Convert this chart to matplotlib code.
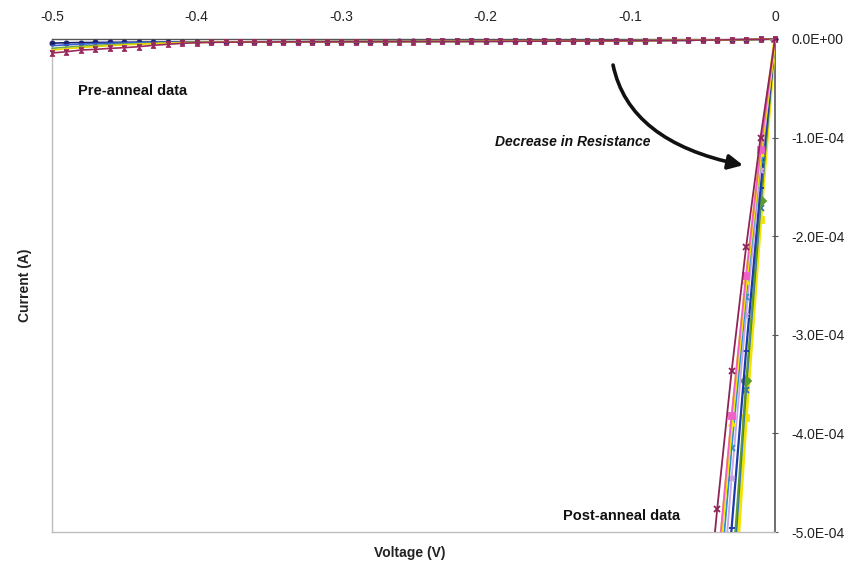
import matplotlib
matplotlib.use("Agg")
import matplotlib.pyplot as plt
from matplotlib.ticker import FixedLocator, FuncFormatter
from matplotlib.patches import FancyArrowPatch
from matplotlib.path import Path

plt.rcParams["font.family"] = ["Liberation Sans", "DejaVu Sans"]
plt.rcParams["axes.unicode_minus"] = False

# ---- Pre-anneal sweep: voltage (V) and current (uA) ----
v_pre = [-0.50, -0.49, -0.48, -0.47, -0.46, -0.45, -0.44, -0.43, -0.42, -0.41,
         -0.40, -0.39, -0.38, -0.37, -0.36, -0.35, -0.34, -0.33, -0.32, -0.31,
         -0.30, -0.29, -0.28, -0.27, -0.26, -0.25, -0.24, -0.23, -0.22, -0.21,
         -0.20, -0.19, -0.18, -0.17, -0.16, -0.15, -0.14, -0.13, -0.12, -0.11,
         -0.10, -0.09, -0.08, -0.07, -0.06, -0.05, -0.04, -0.03, -0.02, -0.01,
         0.00]

pre_navy = [-4.2, -3.8, -3.6, -3.5, -3.4, -3.3, -3.2, -3.1, -3.1, -3.0,
            -3.0, -2.9, -2.9, -2.9, -2.8, -2.8, -2.8, -2.8, -2.7, -2.7,
            -2.7, -2.6, -2.6, -2.6, -2.5, -2.5, -2.5, -2.4, -2.4, -2.4,
            -2.3, -2.3, -2.2, -2.2, -2.1, -2.1, -2.0, -2.0, -1.9, -1.8,
            -1.7, -1.6, -1.5, -1.4, -1.3, -1.1, -1.0, -0.8, -0.6, -0.3,
            0.0]
pre_blue = [-6.8, -5.9, -5.2, -4.7, -4.3, -4.0, -3.7, -3.5, -3.3, -3.2,
            -3.1, -3.0, -3.0, -2.9, -2.9, -2.8, -2.8, -2.8, -2.7, -2.7,
            -2.7, -2.6, -2.6, -2.6, -2.5, -2.5, -2.5, -2.4, -2.4, -2.4,
            -2.3, -2.3, -2.2, -2.2, -2.1, -2.1, -2.0, -2.0, -1.9, -1.8,
            -1.7, -1.6, -1.5, -1.4, -1.3, -1.1, -1.0, -0.8, -0.6, -0.3,
            0.0]
pre_green = [-9.5, -8.3, -7.3, -6.5, -5.8, -5.2, -4.7, -4.3, -3.9, -3.6,
             -3.4, -3.2, -3.1, -3.0, -2.9, -2.9, -2.8, -2.8, -2.7, -2.7,
             -2.7, -2.6, -2.6, -2.6, -2.5, -2.5, -2.5, -2.4, -2.4, -2.4,
             -2.3, -2.3, -2.2, -2.2, -2.1, -2.1, -2.0, -2.0, -1.9, -1.8,
             -1.7, -1.6, -1.5, -1.4, -1.3, -1.1, -1.0, -0.8, -0.6, -0.3,
             0.0]
pre_yellow = [-11.2, -9.9, -8.7, -7.7, -6.8, -6.0, -5.3, -4.7, -4.2, -3.8,
              -3.5, -3.3, -3.1, -3.0, -2.9, -2.9, -2.8, -2.8, -2.7, -2.7,
              -2.7, -2.6, -2.6, -2.6, -2.5, -2.5, -2.5, -2.4, -2.4, -2.4,
              -2.3, -2.3, -2.2, -2.2, -2.1, -2.1, -2.0, -2.0, -1.9, -1.8,
              -1.7, -1.6, -1.5, -1.4, -1.3, -1.1, -1.0, -0.8, -0.6, -0.3,
              0.0]
pre_maroon = [-14.2, -12.9, -11.2, -10.5, -9.5, -8.8, -7.8, -6.4, -5.4, -4.4,
              -3.7, -3.4, -3.2, -3.1, -3.0, -3.0, -2.9, -2.9, -2.8, -2.8,
              -2.8, -2.7, -2.7, -2.6, -2.6, -2.6, -2.5, -2.5, -2.5, -2.4,
              -2.4, -2.3, -2.3, -2.2, -2.2, -2.1, -2.1, -2.0, -1.9, -1.8,
              -1.7, -1.6, -1.5, -1.4, -1.3, -1.1, -1.0, -0.8, -0.6, -0.3,
              0.0]

# ---- Post-anneal sweep: voltage (V) and current (1e-4 A) ----
v_post = [0.00, -0.01, -0.02, -0.03, -0.04, -0.05]

post_maroon = [0.0, -1.00, -2.11, -3.37, -4.77, -6.30]
post_magenta = [0.0, -1.13, -2.40, -3.82, -5.40]
post_yellow_tri = [0.0, -1.16, -2.45, -3.89, -5.50]
post_cyan = [0.0, -1.23, -2.62, -4.15, -5.85]
post_lavender = [0.0, -1.33, -2.80, -4.45, -6.30]
post_blue = [0.0, -1.51, -3.16, -4.96, -7.00]
post_green = [0.0, -1.64, -3.47, -5.50]
post_steel = [0.0, -1.71, -3.56, -5.70]
post_yellow_sq = [0.0, -1.84, -3.84, -6.10]

x_ticks = [-0.5, -0.4, -0.3, -0.2, -0.1, 0.0]
y_ticks = [0.0, -1e-4, -2e-4, -3e-4, -4e-4, -5e-4]

hourglass = [(-0.8, 1), (0.8, 1), (-0.8, -1), (0.8, -1), (-0.8, 1)]

fig = plt.figure(figsize=(8.53, 5.71), dpi=100)
ax = fig.add_axes([52 / 853, 1 - 532 / 571, (775 - 52) / 853, (532 - 39) / 571])

ua = 1e-6
pre_series = [
    (pre_navy, "#1a1f6e", "o", 3.5),
    (pre_blue, "#3a5fd0", "o", 0),
    (pre_green, "#6aa84f", "D", 0),
    (pre_yellow, "#e8d800", "^", 0),
    (pre_maroon, "#9a2a5e", hourglass, 4.0),
]
for vals, col, mk, ms in pre_series:
    ax.plot(v_pre, [c * ua for c in vals], color=col, lw=1.2,
            marker=mk, ms=ms, mfc=col, mec=col, mew=0.8, clip_on=False, zorder=3)

u4 = 1e-4
post_series = [
    (post_yellow_sq, "#f2e400", "s", 2.4),
    (post_steel, "#2f6fc0", "x", 1.3),
    (post_green, "#5c9e2e", "D", 1.3),
    (post_blue, "#1a3aa8", "_", 1.6),
    (post_lavender, "#c9a3e8", "*", 1.3),
    (post_cyan, "#2a8ed0", "x", 1.3),
    (post_yellow_tri, "#f5e600", "^", 2.4),
    (post_magenta, "#f060c8", "s", 1.3),
    (post_maroon, "#8e2456", "x", 1.3),
]
for vals, col, mk, lw in post_series:
    ax.plot(v_post[:len(vals)], [c * u4 for c in vals], color=col, lw=lw,
            marker=mk, ms=5, mfc=col, mec=col, mew=1.3, zorder=4)

ax.set_xlim(-0.5, 0.0)
ax.set_ylim(-5e-4, 0.0)

ax.xaxis.tick_top()
ax.yaxis.tick_right()
ax.xaxis.set_major_locator(FixedLocator(x_ticks))
ax.yaxis.set_major_locator(FixedLocator(y_ticks))
ax.xaxis.set_major_formatter(FuncFormatter(lambda v, p: f"{v:g}"))
ax.yaxis.set_major_formatter(FuncFormatter(lambda v, p: f"{v:.1E}"))
ax.tick_params(axis="x", length=0, pad=11, labelsize=10, colors="#222222")
ax.tick_params(axis="y", length=4, direction="inout", pad=10, labelsize=10,
               colors="#555555", labelcolor="#222222")

for side in ("left", "bottom"):
    ax.spines[side].set_color("#bdbdbd")
    ax.spines[side].set_linewidth(1.0)
ax.spines["right"].set_color("#555555")
ax.spines["right"].set_linewidth(1.2)
ax.spines["top"].set_color("#555555")
ax.spines["top"].set_linewidth(1.0)

ax.text(-0.482, -0.53e-4, "Pre-anneal data", fontsize=10.5,
        fontweight="bold", ha="left", va="center", color="#111111")
ax.text(-0.1466, -4.84e-4, "Post-anneal data", fontsize=10.5,
        fontweight="bold", ha="left", va="center", color="#111111", zorder=2)
ax.text(-0.0864, -1.047e-4, "Decrease in Resistance", fontsize=10,
        fontweight="bold", fontstyle="italic", ha="right", va="center",
        color="#111111")

# curved arrow pointing at the post-anneal curves
arrow_path = Path([(-0.112, -0.264e-4), (-0.1010, -1.042e-4), (-0.0221, -1.28e-4)],
                  [Path.MOVETO, Path.CURVE3, Path.CURVE3])
arrow = FancyArrowPatch(path=arrow_path, arrowstyle="-|>", mutation_scale=22,
                        lw=2.6, color="#111111", transform=ax.transData, zorder=5)
ax.add_patch(arrow)

fig.text(25 / 853, 1 - 285 / 571, "Current (A)", rotation=90, fontsize=10,
         fontweight="bold", ha="center", va="center", color="#222222")
fig.text(410 / 853, 1 - 553 / 571, "Voltage (V)", fontsize=10,
         fontweight="bold", ha="center", va="center", color="#222222")

fig.savefig("out.png", dpi=100, facecolor="white")
